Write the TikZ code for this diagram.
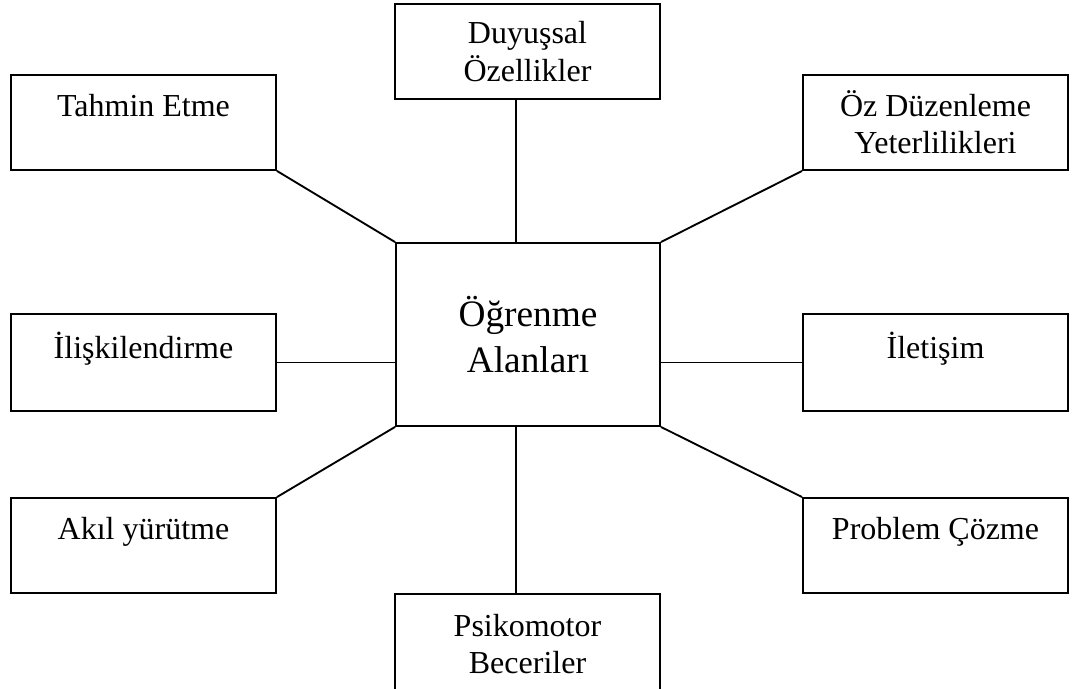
\documentclass[tikz,border=0pt]{standalone}
\usepackage{fontspec}
\setmainfont{Liberation Serif}
\usepackage{tikz}

\begin{document}
\begin{tikzpicture}[
  x=0.75pt, y=-0.75pt,
  line width=1.4pt,
  box/.style={draw=black, minimum width=198.75pt, minimum height=71.25pt, inner sep=0pt,
    align=center, font=\fontsize{24}{28}\selectfont},
  mainbox/.style={draw=black, minimum width=198pt, minimum height=137.25pt, inner sep=0pt,
    align=center, font=\fontsize{28}{34}\selectfont},
]
\clip (0,0) rectangle (1075,689);

% center and surrounding boxes
\node[mainbox] (cen)  at (528,334.5)   {Öğrenme\\Alanları};
\node[box]     (duy)  at (527.5,51.5)  {Duyuşsal\\Özellikler};
\node[box]     (tah)  at (143.5,122.5) {Tahmin Etme\\[-2pt]~};
\node[box]     (oz)   at (935.5,122.5) {Öz Düzenleme\\Yeterlilikleri};
\node[box, minimum height=72.75pt] (ili)  at (143.5,362.5) {İlişkilendirme\\[-2pt]~};
\node[box, minimum height=72.75pt] (ilet) at (935.5,362.5) {İletişim\\[-2pt]~};
\node[box]     (akil) at (143.5,545.5) {Akıl yürütme\\[-2pt]~};
\node[box]     (prob) at (935.5,545.5) {Problem Çözme\\[-2pt]~};
\node[box, minimum height=75pt] (psi) at (527.5,644) {Psikomotor\\Beceriler};

% connectors
\draw ([xshift=-9pt]cen.north) -- ([xshift=-9pt]cen.north |- duy.south);
\draw ([xshift=-9pt]cen.south) -- ([xshift=-9pt]cen.south |- psi.north);
\draw (tah.south east) -- (cen.north west);
\draw (oz.south west) -- (cen.north east);
\draw (ili.east) -- (ili.east -| cen.west);
\draw (ilet.west) -- (ilet.west -| cen.east);
\draw (akil.north east) -- (cen.south west);
\draw (prob.north west) -- (cen.south east);
\end{tikzpicture}
\end{document}
